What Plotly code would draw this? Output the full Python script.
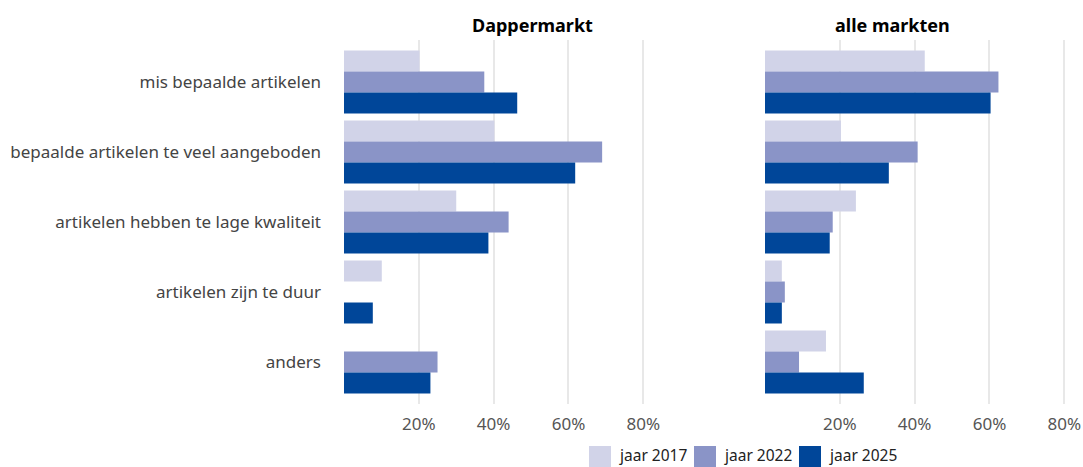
import plotly.graph_objects as go

categories = ["mis bepaalde artikelen", "bepaalde artikelen te veel aangeboden",
              "artikelen hebben te lage kwaliteit", "artikelen zijn te duur", "anders"]
series_names = ["jaar 2017", "jaar 2022", "jaar 2025"]
colors = ["#d1d3e8", "#8a94c7", "#004699"]

dapper_2017 = [20.2, 40.2, 30.0, 10.1, None]
dapper_2022 = [37.5, 69.0, 44.0, None, 25.0]
dapper_2025 = [46.3, 61.8, 38.6, 7.7, 23.1]

alle_2017 = [42.7, 20.3, 24.3, 4.5, 16.3]
alle_2022 = [62.4, 40.8, 18.1, 5.3, 9.1]
alle_2025 = [60.3, 33.1, 17.3, 4.5, 26.4]

tick_vals = [20, 40, 60, 80]
tick_text = ["20%", "40%", "60%", "80%"]
panel_titles = ["Dappermarkt", "alle markten"]

W, H = 1083, 467
FONT = "Noto Sans"
MT, MB = 40, 63
plot_h = H - MT - MB


def px_x(p):
    return p / W


def px_y(p):
    return 1 - (p - MT) / plot_h


fig = go.Figure()
left = [dapper_2017, dapper_2022, dapper_2025]
right = [alle_2017, alle_2022, alle_2025]
for i, name in enumerate(series_names):
    fig.add_trace(go.Bar(y=categories, x=left[i], orientation="h", name=name,
                         marker=dict(color=colors[i], line=dict(width=0)),
                         xaxis="x", yaxis="y", showlegend=False,
                         hovertemplate="%{y}: %{x}%<extra>" + name + "</extra>"))
for i, name in enumerate(series_names):
    fig.add_trace(go.Bar(y=categories, x=right[i], orientation="h", name=name,
                         marker=dict(color=colors[i], line=dict(width=0)),
                         xaxis="x2", yaxis="y2", showlegend=False,
                         hovertemplate="%{y}: %{x}%<extra>" + name + "</extra>"))

xcommon = dict(range=[0, 85], tickvals=tick_vals, ticktext=tick_text, showgrid=True,
               gridcolor="#e8e8e8", gridwidth=1.5, zeroline=False, showline=False,
               ticks="", ticklabelstandoff=8,
               tickfont=dict(family=FONT, size=17, color="#555555"),
               fixedrange=True, automargin=False)
ycommon = dict(type="category", categoryorder="array", categoryarray=categories,
               range=[4.6, -0.6], showgrid=False, zeroline=False, showline=False,
               ticks="", fixedrange=True, automargin=False)

annotations = [
    dict(text="<b>" + panel_titles[0] + "</b>", x=px_x(532), y=px_y(25),
         xref="paper", yref="paper", yanchor="middle",
         showarrow=False, font=dict(family=FONT, size=18, color="#000000")),
    dict(text="<b>" + panel_titles[1] + "</b>", x=px_x(952), y=px_y(25),
         xref="paper", yref="paper", yanchor="middle",
         showarrow=False, font=dict(family=FONT, size=18, color="#000000")),
]
shapes = []
legend_sq_x = [589, 694, 799]
for i, name in enumerate(series_names):
    x0 = legend_sq_x[i]
    shapes.append(dict(type="rect", xref="paper", yref="paper",
                       x0=px_x(x0), x1=px_x(x0 + 22), y0=px_y(467), y1=px_y(446),
                       fillcolor=colors[i], line=dict(width=0)))
    annotations.append(dict(text=name, x=px_x(x0 + 29), y=px_y(467), xref="paper", yref="paper",
                            xanchor="left", yanchor="bottom", borderpad=0, showarrow=False,
                            font=dict(family=FONT, size=15.5, color="#222222")))

fig.update_layout(
    width=W, height=H,
    margin=dict(l=0, r=0, t=MT, b=MB),
    paper_bgcolor="white", plot_bgcolor="white",
    barmode="group", bargap=0.1, bargroupgap=0,
    xaxis=dict(domain=[344 / W, 662 / W], anchor="y", **xcommon),
    xaxis2=dict(domain=[765 / W, 1.0], anchor="y2", **xcommon),
    yaxis=dict(anchor="x", ticklabelstandoff=22,
               tickfont=dict(family=FONT, size=17, color="#444444"), **ycommon),
    yaxis2=dict(anchor="x2", showticklabels=False, matches="y", **ycommon),
    showlegend=False,
    annotations=annotations,
    shapes=shapes,
)

fig.write_html("out.html", config={"displayModeBar": False},
               post_script="document.body.style.margin='0px';document.body.style.overflow='hidden';")
